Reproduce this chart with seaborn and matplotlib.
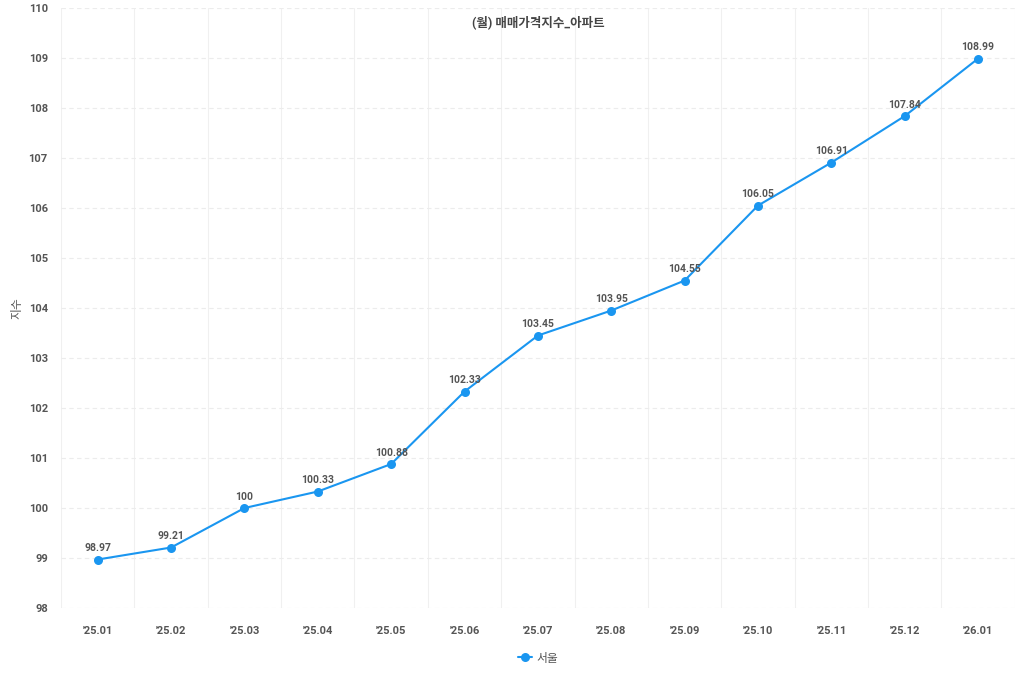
import seaborn as sns
import matplotlib.pyplot as plt
import numpy as np
import pandas as pd

months = ["'25.01", "'25.02", "'25.03", "'25.04", "'25.05", "'25.06", "'25.07",
          "'25.08", "'25.09", "'25.10", "'25.11", "'25.12", "'26.01"]
seoul = [98.97, 99.21, 100, 100.33, 100.88, 102.33, 103.45,
         103.95, 104.55, 106.05, 106.91, 107.84, 108.99]
labels = ["98.97", "99.21", "100", "100.33", "100.88", "102.33", "103.45",
          "103.95", "104.55", "106.05", "106.91", "107.84", "108.99"]

df = pd.DataFrame({"month": months, "value": seoul, "pos": np.arange(len(months))})

sns.set_style("white")
plt.rcParams['font.family'] = ['Roboto', 'Noto Sans CJK KR', 'DejaVu Sans']

blue = "#1a96f0"
grey = "#555555"

fig = plt.figure(figsize=(10.24, 6.83), dpi=100)
ax = fig.add_axes([0.0596, 0.1098, 0.9314, 0.8784])

sns.lineplot(data=df, x="pos", y="value", ax=ax, color=blue, linewidth=1.5,
             marker="o", markersize=6.5, markeredgewidth=0, label="서울")

for x, y, t in zip(df["pos"], df["value"], labels):
    ax.annotate(t, (x, y), xytext=(0, 4.5), textcoords="offset points",
                ha="center", va="bottom", fontsize=7.5, fontweight="bold", color=grey)

ax.set_xlim(-0.5, len(months) - 0.5)
ax.set_ylim(98, 110)
ax.set_xticks(df["pos"])
ax.set_xticklabels(months)
ax.set_xticks(np.arange(-0.5, len(months)), minor=True)
ax.set_yticks(np.arange(98, 111, 1))
ax.tick_params(axis="both", which="both", length=0, labelsize=8, labelcolor=grey)
for lab in ax.get_xticklabels() + ax.get_yticklabels():
    lab.set_fontweight("bold")
ax.tick_params(axis="x", pad=13)
ax.tick_params(axis="y", pad=9.5)

ax.grid(axis="y", which="major", color="#ececec", linestyle=(0, (4, 3)), linewidth=0.8)
ax.grid(axis="x", which="minor", color="#f0f0f0", linestyle="-", linewidth=0.8)
ax.grid(axis="x", which="major", visible=False)
for s in ax.spines.values():
    s.set_visible(False)

ax.set_xlabel("")
ax.set_ylabel("지수", fontsize=8.5, color=grey)
ax.yaxis.set_label_coords(-0.039, 0.5)
ax.text(0.5, 0.988, "(월) 매매가격지수_아파트", transform=ax.transAxes, ha="center",
        va="top", fontsize=9, fontweight="bold", color="#444444")

ax.legend(loc="upper center", bbox_to_anchor=(0.5, -0.055), frameon=False,
          fontsize=8.5, handlelength=1.2, handletextpad=0.4, labelcolor=grey)

fig.savefig("out.png", dpi=100)
